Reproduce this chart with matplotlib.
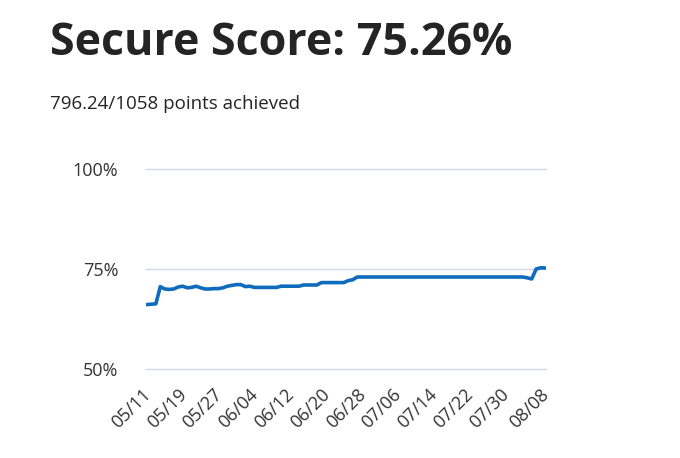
import matplotlib
matplotlib.use("Agg")
import matplotlib.pyplot as plt
import matplotlib.transforms as mtransforms
import numpy as np
import datetime as dt

plt.rcParams['font.family'] = ['Open Sans', 'DejaVu Sans']

title = "Secure Score: 75.26%"
subtitle = "796.24/1058 points achieved"

start_date = dt.date(2023, 5, 11)
scores = [66.1, 66.2, 66.3, 70.6, 70.0, 69.9, 70.0, 70.5, 70.7, 70.3,
          70.4, 70.7, 70.3, 70.0, 70.0, 70.1, 70.1, 70.3, 70.7, 70.9,
          71.1, 71.1, 70.6, 70.7, 70.4, 70.4, 70.4, 70.4, 70.4, 70.4,
          70.7, 70.7, 70.7, 70.7, 70.7, 71.0, 71.0, 71.0, 71.0, 71.6,
          71.6, 71.6, 71.6, 71.6, 71.6, 72.1, 72.3, 73.0, 73.0, 73.0,
          73.0, 73.0, 73.0, 73.0, 73.0, 73.0, 73.0, 73.0, 73.0, 73.0,
          73.0, 73.0, 73.0, 73.0, 73.0, 73.0, 73.0, 73.0, 73.0, 73.0,
          73.0, 73.0, 73.0, 73.0, 73.0, 73.0, 73.0, 73.0, 73.0, 73.0,
          73.0, 73.0, 73.0, 73.0, 73.0, 72.8, 72.5, 75.0, 75.3, 75.26]
dates = [start_date + dt.timedelta(days=i) for i in range(len(scores))]
date_labels = [d.strftime("%m/%d") for d in dates]
tick_idx = list(range(0, len(scores) - 2, 8)) + [len(scores) - 1]
y_ticks = [50, 75, 100]

W, H = 680, 458
fig = plt.figure(figsize=(W / 100, H / 100), dpi=100)
fig.patch.set_facecolor('white')

ax = fig.add_axes([146 / W, 1 - 369 / H, (546 - 146) / W, (369 - 169) / H])
x = np.arange(len(scores))
ax.plot(x, scores, color='#0f6cbd', lw=2.6, solid_joinstyle='round', solid_capstyle='round')
ax.set_xlim(-0.2, len(scores) - 0.8)
ax.set_ylim(50, 100)
ax.set_yticks(y_ticks)
ax.set_yticklabels([f"{v}%" for v in y_ticks])
ax.yaxis.grid(True, color='#d4d9e6', lw=1)
for gl in ax.get_ygridlines():
    gl.set_clip_on(False)
ax.set_axisbelow(True)
for s in ax.spines.values():
    s.set_visible(False)
ax.tick_params(axis='y', length=0, pad=20, labelsize=13, labelcolor='#333333')
ax.set_xticks(tick_idx)
ax.set_xticklabels([date_labels[i] for i in tick_idx], rotation=45, ha='right',
                   rotation_mode='anchor', fontsize=13, color='#333333')
ax.tick_params(axis='x', length=0, pad=12)
offset = mtransforms.ScaledTranslation(-5 / 100, 0, fig.dpi_scale_trans)
for lbl in ax.get_xticklabels():
    lbl.set_transform(lbl.get_transform() + offset)

fig.text(50 / W, 1 - 55 / H, title, fontsize=32.3, fontweight='bold', color='#242424',
         va='baseline', ha='left')
fig.text(50 / W, 1 - 109 / H, subtitle, fontsize=13.5, color='#242424',
         va='baseline', ha='left')

fig.savefig('out.png', dpi=100)
